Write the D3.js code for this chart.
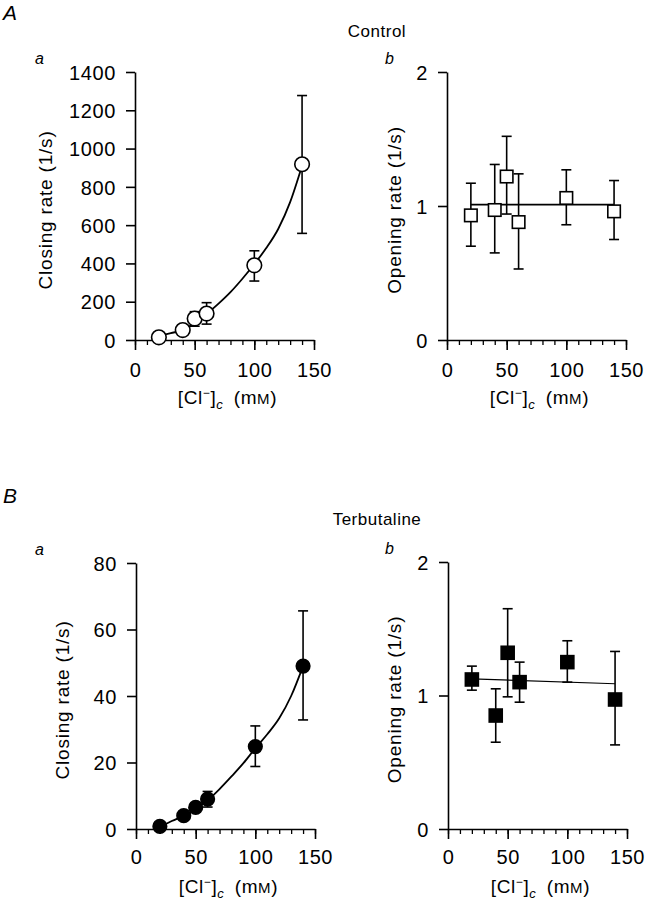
<!DOCTYPE html>
<html>
<head>
<meta charset="utf-8">
<script src="https://cdn.jsdelivr.net/npm/d3@7"></script>
<style>
  html, body { margin: 0; padding: 0; background: #fff; }
  svg { display: block; font-family: "Liberation Sans", Arial, Helvetica, sans-serif; }
</style>
</head>
<body>
<script>
// ---------------- DATA ----------------
const xTicks = [0, 50, 100, 150];
const xMinorTicks = [0, 10, 20, 30, 40, 50, 60, 70, 80, 90, 100, 110, 120, 130, 140, 150];
const clConc = [20, 40, 50, 60, 100, 140];

// A a: Control closing rate
const ctrlCloseTicks = [0, 200, 400, 600, 800, 1000, 1200, 1400];
const ctrlClose   = [14, 52, 112, 138, 390, 918];
const ctrlCloseHi = [14, 52, 148, 195, 466, 1277];
const ctrlCloseLo = [14, 52, 72, 83, 308, 557];
const ctrlCloseFitX = [20, 25, 30, 40, 50, 60, 70, 80, 90, 100, 110, 120, 130, 140];
const ctrlCloseFitY = [20, 28, 36, 52, 90, 136, 190, 250, 320, 397, 480, 580, 720, 910];

// A b: Control opening rate
const openTicks = [0, 1, 2];
const ctrlOpen   = [0.93, 0.97, 1.22, 0.88, 1.06, 0.96];
const ctrlOpenHi = [1.17, 1.31, 1.52, 1.24, 1.27, 1.19];
const ctrlOpenLo = [0.70, 0.65, 0.94, 0.53, 0.86, 0.75];
const ctrlOpenFitX = [20, 140];
const ctrlOpenFitY = [1.01, 1.01];

// B a: Terbutaline closing rate
const terbCloseTicks = [0, 20, 40, 60, 80];
const terbClose   = [0.8, 4.0, 6.5, 9.0, 24.8, 49.0];
const terbCloseHi = [0.8, 4.0, 6.5, 11.3, 31.0, 65.6];
const terbCloseLo = [0.8, 4.0, 6.5, 6.6, 18.8, 32.8];
const terbCloseFitX = [20, 25, 30, 40, 50, 60, 70, 80, 90, 100, 110, 120, 130, 140];
const terbCloseFitY = [0.8, 1.5, 2.4, 4.0, 6.0, 8.6, 12.0, 15.8, 19.8, 24.3, 28.5, 33.3, 40.0, 49.0];

// B b: Terbutaline opening rate
const terbOpen   = [1.12, 0.85, 1.32, 1.10, 1.25, 0.97];
const terbOpenHi = [1.22, 1.05, 1.65, 1.25, 1.41, 1.33];
const terbOpenLo = [1.04, 0.65, 0.99, 0.95, 1.10, 0.63];
const terbOpenFitX = [20, 140];
const terbOpenFitY = [1.125, 1.088];

// ---------------- DRAW ----------------
const W = 647, H = 907;
const svg = d3.select("body").append("svg").attr("width", W).attr("height", H);
const FS = 19;
const TFS = 20;
const fmt = d3.format("d");

function xTitle(g, cx, y) {
  const t = g.append("text").attr("x", cx).attr("y", y)
    .attr("text-anchor", "middle").attr("font-size", FS).attr("letter-spacing", 0.6);
  t.append("tspan").text("[Cl");
  t.append("tspan").attr("dy", -7).attr("font-size", 12).text("\u2212");
  t.append("tspan").attr("dy", 7).text("]");
  t.append("tspan").attr("dy", 5).attr("font-size", 13).attr("font-style", "italic").text("c");
  t.append("tspan").attr("dy", -5).text("\u2009 (m");
  t.append("tspan").attr("font-size", 15).text("M");
  t.append("tspan").text(")");
}

function panel(cfg) {
  const g = svg.append("g");
  const x = d3.scaleLinear().domain([0, 150]).range([cfg.left, cfg.left + 179]);
  const y = d3.scaleLinear().domain([0, cfg.yMax]).range([cfg.bottom, cfg.top]);

  // minor x ticks
  g.append("g").attr("transform", `translate(0,${cfg.bottom})`)
    .call(d3.axisBottom(x).tickValues(xMinorTicks).tickSize(5).tickSizeOuter(0).tickFormat(""))
    .call(s => s.select(".domain").remove())
    .call(s => s.selectAll("line").attr("stroke-width", 1.3));
  // major x ticks
  const xa = g.append("g").attr("transform", `translate(0,${cfg.bottom})`)
    .call(d3.axisBottom(x).tickValues(xTicks).tickSize(10).tickSizeOuter(0).tickFormat(fmt));
  xa.select(".domain").attr("stroke-width", 1.6);
  xa.selectAll("line").attr("stroke-width", 1.6);
  xa.selectAll("text").attr("font-size", TFS).attr("font-family", null)
    .attr("fill", "#000").attr("letter-spacing", 0.6).attr("dy", null).attr("y", cfg.xLabelDy);

  // y axis
  const ya = g.append("g").attr("transform", `translate(${cfg.left},0)`)
    .call(d3.axisLeft(y).tickValues(cfg.yTicks).tickSize(9).tickSizeOuter(0).tickPadding(10).tickFormat(fmt));
  ya.select(".domain").attr("stroke-width", 1.6);
  ya.selectAll("line").attr("stroke-width", 1.6);
  ya.selectAll("text").attr("font-size", TFS).attr("font-family", null)
    .attr("fill", "#000").attr("letter-spacing", 0.6).attr("dy", "0.36em");

  // titles
  g.append("text").attr("transform", `translate(${cfg.yTitleX},${(cfg.top + cfg.bottom) / 2 + 4}) rotate(-90)`)
    .attr("text-anchor", "middle").attr("dy", "0.36em").attr("font-size", FS)
    .attr("letter-spacing", 0.8).text(cfg.yTitle);
  xTitle(g, (cfg.left * 2 + 179) / 2 + 3, cfg.bottom + 64);
  g.append("text").attr("x", cfg.letterX).attr("y", cfg.top - 8)
    .attr("font-size", 16).attr("font-style", "italic").text(cfg.letter);

  // fit line
  const line = d3.line().x(d => x(d[0])).y(d => y(d[1])).curve(d3.curveMonotoneX);
  g.append("path").datum(d3.zip(cfg.fitX, cfg.fitY)).attr("d", line)
    .attr("fill", "none").attr("stroke", "#000").attr("stroke-width", cfg.fitW);

  // error bars
  const pts = cfg.xs.map((v, i) => ({ x: v, y: cfg.ys[i], hi: cfg.hi[i], lo: cfg.lo[i] }));
  const eb = g.append("g").attr("stroke", "#000").attr("stroke-width", 1.6);
  pts.filter(p => p.hi > p.y || p.lo < p.y).forEach(p => {
    eb.append("line").attr("x1", x(p.x)).attr("x2", x(p.x)).attr("y1", y(p.lo)).attr("y2", y(p.hi));
    eb.append("line").attr("x1", x(p.x) - 5).attr("x2", x(p.x) + 5).attr("y1", y(p.lo)).attr("y2", y(p.lo));
    eb.append("line").attr("x1", x(p.x) - 5).attr("x2", x(p.x) + 5).attr("y1", y(p.hi)).attr("y2", y(p.hi));
  });

  // markers
  const mk = g.append("g");
  if (cfg.marker === "circle") {
    mk.selectAll("circle").data(pts).join("circle")
      .attr("cx", d => x(d.x)).attr("cy", d => y(d.y))
      .attr("r", cfg.filled ? 6.8 : 7.3)
      .attr("fill", cfg.filled ? "#000" : "#fff").attr("stroke", "#000").attr("stroke-width", 1.6);
  } else {
    const s = cfg.filled ? 13 : 12.5;
    mk.selectAll("rect").data(pts).join("rect")
      .attr("x", d => x(d.x) - s / 2).attr("y", d => y(d.y) - s / 2)
      .attr("width", s).attr("height", s)
      .attr("fill", cfg.filled ? "#000" : "#fff").attr("stroke", "#000").attr("stroke-width", 1.6);
  }
  return g;
}

panel({ left: 135, top: 72, bottom: 340, yMax: 1400, yTicks: ctrlCloseTicks, xLabelDy: 37,
  yTitle: "Closing rate (1/s)", yTitleX: 45, letter: "a", letterX: 35,
  xs: clConc, ys: ctrlClose, hi: ctrlCloseHi, lo: ctrlCloseLo,
  fitX: ctrlCloseFitX, fitY: ctrlCloseFitY, fitW: 1.8, marker: "circle", filled: false });

panel({ left: 447, top: 72, bottom: 340, yMax: 2, yTicks: openTicks, xLabelDy: 37,
  yTitle: "Opening rate (1/s)", yTitleX: 394, letter: "b", letterX: 385,
  xs: clConc, ys: ctrlOpen, hi: ctrlOpenHi, lo: ctrlOpenLo,
  fitX: ctrlOpenFitX, fitY: ctrlOpenFitY, fitW: 1.6, marker: "square", filled: false });

panel({ left: 136, top: 563, bottom: 829, yMax: 80, yTicks: terbCloseTicks, xLabelDy: 35,
  yTitle: "Closing rate (1/s)", yTitleX: 62, letter: "a", letterX: 35,
  xs: clConc, ys: terbClose, hi: terbCloseHi, lo: terbCloseLo,
  fitX: terbCloseFitX, fitY: terbCloseFitY, fitW: 1.8, marker: "circle", filled: true });

panel({ left: 448, top: 562, bottom: 829, yMax: 2, yTicks: openTicks, xLabelDy: 35,
  yTitle: "Opening rate (1/s)", yTitleX: 394, letter: "b", letterX: 385,
  xs: clConc, ys: terbOpen, hi: terbOpenHi, lo: terbOpenLo,
  fitX: terbOpenFitX, fitY: terbOpenFitY, fitW: 1.2, marker: "square", filled: true });

// section labels
svg.append("text").attr("x", 3).attr("y", 20).attr("font-size", 21).attr("font-style", "italic").text("A");
svg.append("text").attr("x", 3).attr("y", 503).attr("font-size", 21).attr("font-style", "italic").text("B");
svg.append("text").attr("x", 377).attr("y", 37).attr("text-anchor", "middle").attr("font-size", 17).attr("letter-spacing", 0.5).text("Control");
svg.append("text").attr("x", 377).attr("y", 525).attr("text-anchor", "middle").attr("font-size", 17).attr("letter-spacing", 0.5).text("Terbutaline");
</script>
</body>
</html>
